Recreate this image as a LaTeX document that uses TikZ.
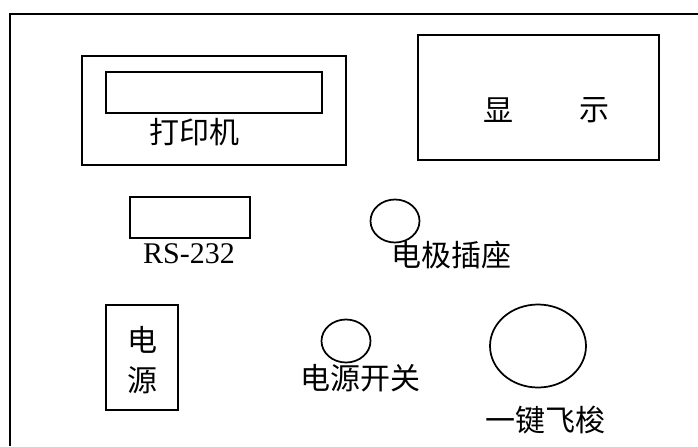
\documentclass[tikz,border=0pt]{standalone}
\usepackage{fontspec}
\setmainfont{Liberation Serif}
\newfontfamily\cjk{Noto Sans CJK SC}
\usetikzlibrary{shapes.geometric}
\begin{document}
\begin{tikzpicture}[x=0.75pt,y=-0.75pt,line width=1.3pt,
  panel/.style={draw,rectangle,inner sep=0pt},
  knob/.style={draw,ellipse,inner sep=0pt},
  lbl/.style={inner sep=0pt,font=\cjk\fontsize{22.5}{24}\selectfont},
  latin/.style={inner sep=0pt,font=\fontsize{22.5}{24}\selectfont}]
\useasboundingbox (0,0) rectangle (698,446);
\fill[white] (0,0) rectangle (698,446);
% outer frame
\coordinate (fa) at (10,446);
\coordinate (fb) at (10,14);
\coordinate (fc) at (698,14);
\draw (fa) -- (fb) -- (fc);
% printer
\node[panel,minimum width=198pt,minimum height=81.75pt] (prn) at (214,110.5) {};
\node[panel,minimum width=162pt,minimum height=30.75pt] (slot) at (214,92.5) {};
\node[lbl] (prnt) at (194,132) {打印机};
% display
\node[panel,minimum width=180.75pt,minimum height=93.75pt] (disp) at (538.5,97.5) {};
\node[lbl] (d1) at (498,110) {显};
\node[lbl] (d2) at (594,110) {示};
% RS-232
\node[panel,minimum width=90pt,minimum height=30.75pt] (rs) at (190,217.5) {};
\node[latin,anchor=base] (rst) at (189,263) {RS-232};
% power
\node[panel,minimum width=54pt,minimum height=78.75pt] (pw) at (142,357.5) {};
\node[lbl] (p1) at (142,340) {电};
\node[lbl] (p2) at (142,380) {源};
% electrode socket
\node[knob,minimum width=36.75pt,minimum height=32.25pt] (sock) at (395,221) {};
\node[lbl] (sockt) at (451,255) {电极插座};
% power switch
\node[knob,minimum width=36.75pt,minimum height=32.25pt] (sw) at (346,341) {};
\node[lbl] (swt) at (360,378) {电源开关};
% jog dial
\node[knob,minimum width=72pt,minimum height=62.25pt] (jog) at (538,346) {};
\node[lbl] (jogt) at (545,420) {一键飞梭};
\end{tikzpicture}
\end{document}
